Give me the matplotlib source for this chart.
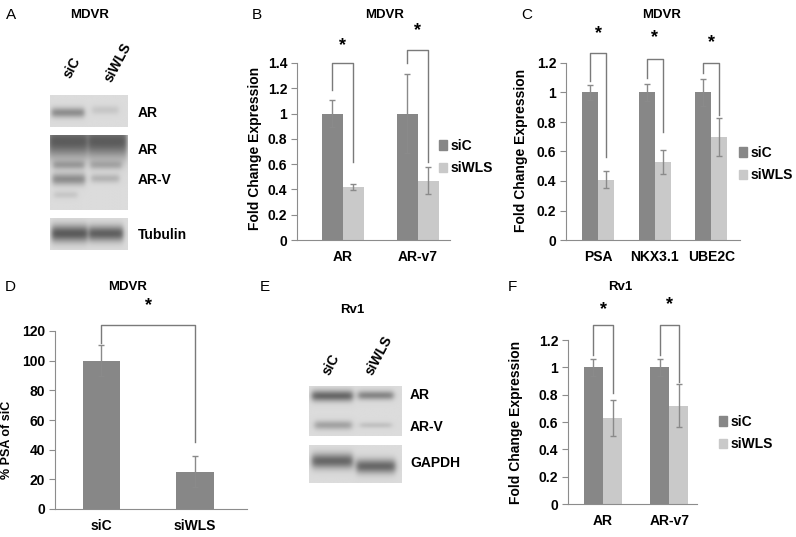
import numpy as np
import matplotlib
matplotlib.use("Agg")
import matplotlib.pyplot as plt
from matplotlib.patches import Patch
from matplotlib.ticker import FuncFormatter

plt.rcParams['font.family'] = ['Liberation Sans', 'DejaVu Sans']

W, H = 796, 537

# ---- datos ----
# B: MDVR, AR / AR-v7
b_cats = ['AR', 'AR-v7']
b_sic = [1.0, 1.0]
b_sic_err = [0.11, 0.31]
b_siwls = [0.42, 0.47]
b_siwls_err = [0.025, 0.11]
b_br_top = [1.40, 1.50]
b_br_left = [1.19, 1.40]
b_br_right = [0.62, 0.62]
b_star = [1.54, 1.66]

# C: MDVR, genes diana
c_cats = ['PSA', 'NKX3.1', 'UBE2C']
c_sic = [1.0, 1.0, 1.0]
c_sic_err = [0.05, 0.06, 0.09]
c_siwls = [0.41, 0.53, 0.70]
c_siwls_err = [0.06, 0.08, 0.13]
c_br_top = [1.27, 1.23, 1.20]
c_br_left = [1.08, 1.10, 1.13]
c_br_right = [0.56, 0.73, 0.85]
c_star = [1.40, 1.37, 1.34]

# D: % PSA of siC
d_cats = ['siC', 'siWLS']
d_vals = [100, 25]
d_err = [10.5, 10.5]
d_br_top = [124]
d_br_left = [112]
d_br_right = [45]
d_star = [137]

# F: Rv1
f_cats = ['AR', 'AR-v7']
f_sic = [1.0, 1.0]
f_sic_err = [0.06, 0.06]
f_siwls = [0.63, 0.72]
f_siwls_err = [0.13, 0.16]
f_br_top = [1.31, 1.31]
f_br_left = [1.09, 1.09]
f_br_right = [0.81, 0.89]
f_star = [1.42, 1.46]

# Western blots: (x centro, y centro, semiancho, semialto, intensidad) en fracciones de la caja
blot_a1 = [(0.23, 0.55, 0.21, 0.16, 0.30), (0.71, 0.47, 0.17, 0.14, 0.08)]
blot_a2 = [(0.23, 0.08, 0.25, 0.22, 0.50), (0.74, 0.08, 0.25, 0.22, 0.50),
           (0.24, 0.40, 0.20, 0.06, 0.20), (0.72, 0.40, 0.20, 0.06, 0.16),
           (0.24, 0.59, 0.21, 0.08, 0.30), (0.71, 0.58, 0.18, 0.06, 0.15),
           (0.20, 0.80, 0.15, 0.05, 0.08)]
blot_a3 = [(0.25, 0.50, 0.23, 0.26, 0.50), (0.72, 0.50, 0.22, 0.24, 0.48)]
blot_e1 = [(0.25, 0.21, 0.22, 0.11, 0.45), (0.72, 0.20, 0.19, 0.09, 0.33),
           (0.26, 0.79, 0.20, 0.09, 0.22), (0.72, 0.79, 0.17, 0.06, 0.10)]
blot_e2 = [(0.25, 0.42, 0.22, 0.20, 0.45), (0.72, 0.56, 0.21, 0.19, 0.45)]

SIC = '#878787'
SIWLS = '#c9c9c9'
ERR = '#8a8a8a'
AXC = '#8c8c8c'


def px_x(x):
    return x / W


def px_y(y):
    return 1 - y / H


def fig_text(x, y, s, **kw):
    fig.text(px_x(x), px_y(y), s, **kw)


def bar_axes(left, right, top, bottom, ymax, step, xlim):
    ax = fig.add_axes([px_x(left), px_y(bottom), (right - left) / W, (bottom - top) / H])
    ax.set_ylim(0, ymax)
    ax.set_xlim(*xlim)
    ax.set_yticks(np.arange(0, ymax + step / 2, step))
    ax.yaxis.set_major_formatter(FuncFormatter(lambda v, p: f'{v:g}'))
    for s in ['top', 'right']:
        ax.spines[s].set_visible(False)
    ax.spines['left'].set_color(AXC)
    ax.spines['bottom'].set_color(AXC)
    ax.tick_params(axis='y', length=4, color=AXC, labelsize=10, pad=3)
    ax.tick_params(axis='x', length=0, labelsize=10, pad=7)
    for lab in ax.get_yticklabels():
        lab.set_fontweight('bold')
    return ax


def brackets(ax, xl, xr, top, lb, rb, star):
    for a, b, t, l, r, s in zip(xl, xr, top, lb, rb, star):
        ax.plot([a, a, b, b], [l, t, t, r], color='#7a7a7a', lw=1, clip_on=False)
        ax.text((a + b) / 2, s, '*', ha='center', va='center', fontsize=13, fontweight='bold')


def grouped(ax, cats, v1, e1, v2, e2, bw):
    x = np.arange(len(cats))
    ek = dict(ecolor=ERR, elinewidth=1, capsize=2.5, capthick=1)
    ax.bar(x - bw / 2, v1, bw, yerr=e1, color=SIC, error_kw=ek, label='siC')
    ax.bar(x + bw / 2, v2, bw, yerr=e2, color=SIWLS, error_kw=ek, label='siWLS')
    ax.set_xticks(x)
    ax.set_xticklabels(cats, fontweight='bold')
    return x


def legend_at(x, y):
    handles = [Patch(color=SIC, label='siC'), Patch(color=SIWLS, label='siWLS')]
    fig.legend(handles=handles, loc='upper left', bbox_to_anchor=(px_x(x), px_y(y)),
               frameon=False, handlelength=0.55, handleheight=0.7, handletextpad=0.3,
               labelspacing=0.6, borderpad=0, borderaxespad=0,
               prop=dict(size=10, weight='bold'))


def blot(x0, x1, y0, y1, bands):
    ax = fig.add_axes([px_x(x0), px_y(y1), (x1 - x0) / W, (y1 - y0) / H])
    nx, ny = 200, 100
    gx = np.linspace(0, 1, nx)[None, :]
    gy = np.linspace(0, 1, ny)[:, None]
    img = np.full((ny, nx), 0.86)
    for cx, cy, hw, hh, d in bands:
        fx = 0.5 * (np.tanh((gx - (cx - hw)) / 0.035) - np.tanh((gx - (cx + hw)) / 0.035))
        fy = np.exp(-((gy - cy) / hh) ** 2)
        img = img - d * fx * fy
    ax.imshow(np.clip(img, 0.3, 1), cmap='gray', vmin=0, vmax=1, aspect='auto',
              extent=(0, 1, 1, 0), interpolation='bilinear')
    ax.axis('off')


fig = plt.figure(figsize=(W / 100, H / 100), dpi=100)

# ---- A ----
fig_text(11, 15, 'A', fontsize=11, ha='center', va='center')
fig_text(90, 15, 'MDVR', fontsize=9.5, fontweight='bold', ha='center', va='center')
fig_text(72, 68, 'siC', fontsize=10, fontweight='bold', rotation=62, ha='center', va='center')
fig_text(118, 62, 'siWLS', fontsize=10, fontweight='bold', rotation=62, ha='center', va='center')
blot(50, 128, 95, 127, blot_a1)
blot(50, 128, 135, 210, blot_a2)
blot(50, 128, 218, 250, blot_a3)
for yy, s in zip([113, 150, 180, 235], ['AR', 'AR', 'AR-V', 'Tubulin']):
    fig_text(138, yy, s, fontsize=10, fontweight='bold', va='center')

# ---- B ----
fig_text(257, 15, 'B', fontsize=11, ha='center', va='center')
fig_text(385, 15, 'MDVR', fontsize=9.5, fontweight='bold', ha='center', va='center')
axb = bar_axes(297, 450, 63, 240, 1.4, 0.2, (-0.61, 1.43))
bw = 0.28
xb = grouped(axb, b_cats, b_sic, b_sic_err, b_siwls, b_siwls_err, bw)
brackets(axb, xb - bw / 2, xb + bw / 2, b_br_top, b_br_left, b_br_right, b_star)
axb.set_ylabel('Fold Change Expression', fontsize=10, fontweight='bold')
axb.yaxis.set_label_coords(px_x(262), px_y(148), transform=fig.transFigure)
legend_at(439, 139)

# ---- C ----
fig_text(527, 15, 'C', fontsize=11, ha='center', va='center')
fig_text(662, 15, 'MDVR', fontsize=9.5, fontweight='bold', ha='center', va='center')
axc = bar_axes(566, 740, 63, 240, 1.2, 0.2, (-0.57, 2.51))
xc = grouped(axc, c_cats, c_sic, c_sic_err, c_siwls, c_siwls_err, bw)
brackets(axc, xc - bw / 2, xc + bw / 2, c_br_top, c_br_left, c_br_right, c_star)
axc.set_ylabel('Fold Change Expression', fontsize=10, fontweight='bold')
axc.yaxis.set_label_coords(px_x(528), px_y(150), transform=fig.transFigure)
legend_at(739, 146)

# ---- D ----
fig_text(10, 287, 'D', fontsize=11, ha='center', va='center')
fig_text(128, 287, 'MDVR', fontsize=9.5, fontweight='bold', ha='center', va='center')
axd = bar_axes(55, 247, 331, 509, 120, 20, (-0.497, 1.556))
xd = np.arange(len(d_cats))
axd.bar(xd, d_vals, 0.40, yerr=d_err, color=SIC,
        error_kw=dict(ecolor=ERR, elinewidth=1, capsize=2.5, capthick=1))
axd.set_xticks(xd)
axd.set_xticklabels(d_cats, fontweight='bold')
brackets(axd, xd[:1], xd[1:], d_br_top, d_br_left, d_br_right, d_star)
axd.set_ylabel('% PSA of siC', fontsize=9, fontweight='bold')
axd.yaxis.set_label_coords(px_x(13), px_y(440), transform=fig.transFigure)

# ---- E ----
fig_text(265, 287, 'E', fontsize=11, ha='center', va='center')
fig_text(352, 310, 'Rv1', fontsize=9.5, fontweight='bold', ha='center', va='center')
fig_text(331, 365, 'siC', fontsize=10, fontweight='bold', rotation=62, ha='center', va='center')
fig_text(379, 355, 'siWLS', fontsize=10, fontweight='bold', rotation=62, ha='center', va='center')
blot(309, 402, 386, 436, blot_e1)
blot(309, 402, 445, 483, blot_e2)
for yy, s in zip([395, 427, 463], ['AR', 'AR-V', 'GAPDH']):
    fig_text(410, yy, s, fontsize=10, fontweight='bold', va='center')

# ---- F ----
fig_text(512, 287, 'F', fontsize=11, ha='center', va='center')
fig_text(620, 287, 'Rv1', fontsize=9.5, fontweight='bold', ha='center', va='center')
axf = bar_axes(568, 697, 340, 504, 1.2, 0.2, (-0.53, 1.42))
bwf = 0.29
xf = grouped(axf, f_cats, f_sic, f_sic_err, f_siwls, f_siwls_err, bwf)
brackets(axf, xf - bwf / 2, xf + bwf / 2, f_br_top, f_br_left, f_br_right, f_star)
axf.set_ylabel('Fold Change Expression', fontsize=10, fontweight='bold')
axf.yaxis.set_label_coords(px_x(523), px_y(422), transform=fig.transFigure)
legend_at(719, 415)

fig.savefig('out.png', dpi=100)
